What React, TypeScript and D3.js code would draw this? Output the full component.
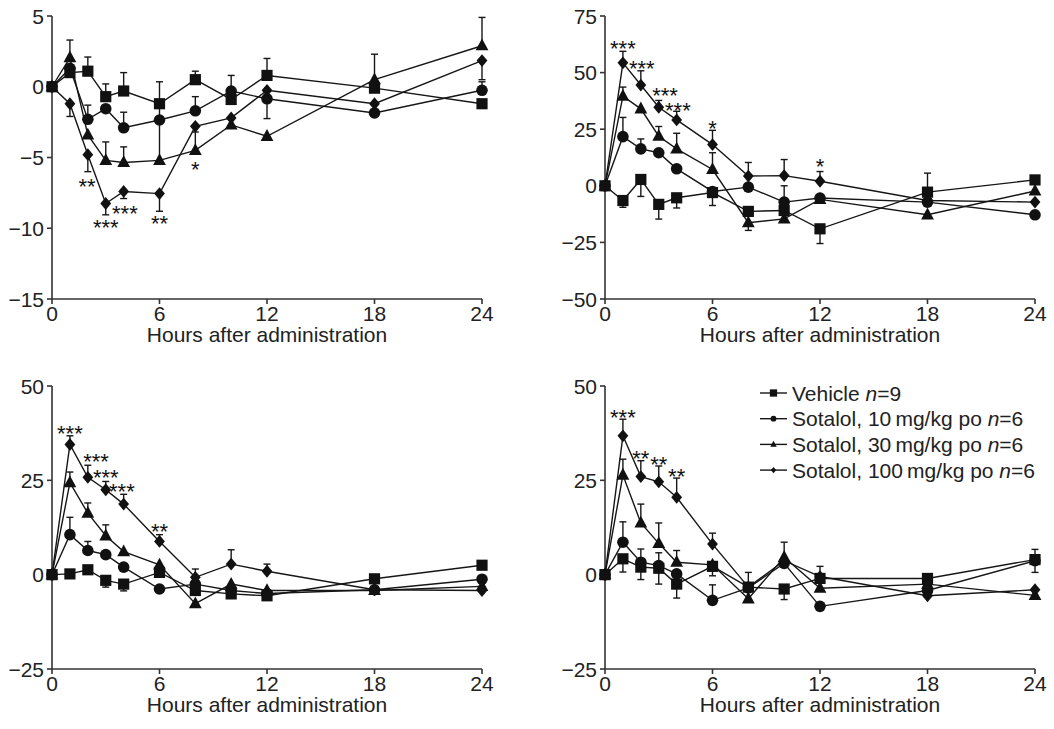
import React from 'react';
import * as d3 from 'd3';

const FONT = "'Liberation Sans', Arial, Helvetica, sans-serif";

// ---------- shared ----------
const hours = [0, 1, 2, 3, 4, 6, 8, 10, 12, 18, 24];
const xTicks = [0, 6, 12, 18, 24];
const xTitle = 'Hours after administration';
const legendLabels = ['Vehicle', 'Sotalol, 10\u2009mg/kg po', 'Sotalol, 30\u2009mg/kg po', 'Sotalol, 100\u2009mg/kg po'];
const legendN = ['9', '6', '6', '6'];
const markerKinds = ['square', 'circle', 'triangle', 'diamond'];

// ---------- panel A (top-left) ----------
const aTicks = [-15, -10, -5, 0, 5];
const aVehicle = [0, 1.0, 1.1, -0.7, -0.3, -1.2, 0.5, -0.9, 0.8, -0.1, -1.2];
const aVehicleErr = [0, 0, 1.0, 0.9, 1.3, 0, 0.6, 1.7, 1.2, 0, 0];
const aLow = [0, 1.3, -2.3, -1.55, -2.9, -2.35, -1.7, -0.3, -0.85, -1.85, -0.25];
const aLowErr = [0, 0, 1.0, 0, 1.1, 2.7, 1.0, 0, -1.4, 0, 0.6];
const aMid = [0, 2.05, -3.4, -5.2, -5.35, -5.2, -4.5, -2.7, -3.5, 0.5, 2.9];
const aMidErr = [0, 1.25, 0, 1.3, 1.1, 2.9, 1.3, 0, 0, 1.8, 2.0];
const aHigh = [0, -1.2, -4.8, -8.25, -7.4, -7.55, -2.8, -2.2, -0.25, -1.2, 1.85];
const aHighErr = [0, -0.9, -1.2, -0.8, -0.5, -1.25, 0, 0, 0, 0, -1.35];
const aStarHour = [1.95, 3.0, 4.07, 6.0, 8.0];
const aStarValue = [-6.7, -9.6, -8.6, -9.3, -5.5];
const aStarText = ['**', '***', '***', '**', '*'];

// ---------- panel B (top-right) ----------
const bTicks = [-50, -25, 0, 25, 50, 75];
const bVehicle = [0, -6.5, 2.8, -8.2, -5.3, -3.0, -11.3, -10.9, -19, -2.8, 2.6];
const bVehicleErr = [0, -3, -7.5, -6.5, -4.5, -5.7, 0, 0, -6.5, 8.4, 0];
const bLow = [0, 21.7, 16.3, 14.6, 7.5, -2.5, -0.6, -7.2, -5.4, -7.2, -12.8];
const bLowErr = [0, 8.5, 4.4, 0, 0, 0, 0, 7.2, 0, 0, 0];
const bMid = [0, 39.6, 34, 21.9, 16.3, 7.2, -16.3, -14.6, -6, -12.8, -2.3];
const bMidErr = [0, 4, 0, 4.3, 6.9, 7.4, -3.4, 0, 0, 0, 0];
const bHigh = [0, 54.3, 44.5, 34.7, 29.1, 18.2, 4.3, 4.5, 2, -6.5, -7.2];
const bHighErr = [0, 5.1, 6.3, 3, 3.8, 6.3, 6, 7.1, 4.3, 0, 0];
const bStarHour = [1.0, 2.05, 3.35, 4.07, 6.0, 12.0];
const bStarValue = [63, 54, 42, 35.3, 27.3, 10.7];
const bStarText = ['***', '***', '***', '***', '*', '*'];

// ---------- panel C (bottom-left) ----------
const cTicks = [-25, 0, 25, 50];
const cVehicle = [0, 0.2, 1.3, -1.5, -2.5, 0.6, -4.2, -5.1, -5.6, -1.1, 2.5];
const cVehicleErr = [0, 0, -1.2, -1.8, -1.8, 0, 0, 0, 0, 0, 0];
const cLow = [0, 10.6, 6.4, 5.3, 2.0, -3.8, -2.5, -4.2, -5.0, -4.0, -1.2];
const cLowErr = [0, 4.6, 2.4, 0, 0, 0, 0, 0, 0, 0, 0];
const cMid = [0, 24.4, 16.3, 10.3, 6.1, 2.6, -7.7, -2.5, -4.2, -4.2, -3.1];
const cMidErr = [0, 2.8, 2.7, 2.9, 0, 0, 0, 0, 0, 0, 0];
const cHigh = [0, 34.5, 25.8, 22.5, 18.7, 8.8, -0.7, 2.8, 0.9, -4.0, -4.2];
const cHighErr = [0, 2.3, 3.2, 2.2, 2.6, 1.8, 2.2, 3.8, 1.9, 0, 0];
const cStarHour = [1.0, 2.46, 3.0, 3.9, 6.0];
const cStarValue = [38.7, 31.3, 27.2, 23.4, 12.8];
const cStarText = ['***', '***', '***', '***', '**'];

// ---------- panel D (bottom-right) ----------
const dTicks = [-25, 0, 25, 50];
const dVehicle = [0, 4.2, 2.0, 1.7, -2.5, 2.2, -3.3, -3.8, -1.0, -1.0, 4.0];
const dVehicleErr = [0, -3.5, -3.3, -4.2, -3.7, -2.5, 0, -2.8, 3.2, 0, -3.4];
const dLow = [0, 8.6, 3.3, 2.4, 0.2, -6.8, -3.5, 3.0, -8.4, -4.2, 3.7];
const dLowErr = [0, 5.4, 3.5, 3.4, 0, 4.1, 0, 0, 0, 0, 3.0];
const dMid = [0, 26.4, 13.7, 8.3, 3.3, 2.6, -6.4, 4.6, -3.6, -2.5, -5.5];
const dMidErr = [0, 4.2, 5.0, 5.4, 3.1, 0, 7.0, 4.0, 0, 0, 0];
const dHigh = [0, 36.8, 26.0, 24.6, 20.5, 8.1, -3.3, 3.7, -0.5, -5.6, -4.0];
const dHighErr = [0, 4.4, 4.2, 4.2, 5.1, 2.9, 0, 0, 0, 0, 0];
const dStarHour = [1.0, 2.0, 3.0, 4.0];
const dStarValue = [43, 32.1, 30.6, 27.4];
const dStarText = ['***', '**', '**', '**'];

// ---------- drawing helpers ----------
function Marker({ kind, x, y, s = 1 }) {
  if (kind === 'circle') return <circle cx={x} cy={y} r={5.8 * s} fill="#111" />;
  let d = '';
  if (kind === 'square') {
    const h = 5.6 * s;
    d = `M${x - h},${y - h}h${2 * h}v${2 * h}h${-2 * h}z`;
  } else if (kind === 'triangle') {
    const w = 6.4 * s;
    d = `M${x},${y - 7.2 * s}L${x + w},${y + 4.6 * s}L${x - w},${y + 4.6 * s}z`;
  } else {
    const w = 5.4 * s, h = 6.4 * s;
    d = `M${x},${y - h}L${x + w},${y}L${x},${y + h}L${x - w},${y}z`;
  }
  return <path d={d} fill="#111" />;
}

const STROKE = '#161616';

function Panel({ cfg }) {
  const x = d3.scaleLinear().domain([0, 24]).range([cfg.x0, cfg.x1]);
  const y = d3.scaleLinear().domain(cfg.domain).range([cfg.yBot, cfg.yTop]);
  const fmt = d3.format('d');
  const line = d3.line<number>().x((_, i) => x(hours[i])).y((v) => y(v));
  return (
    <g>
      {/* axes */}
      <line x1={cfg.x0} x2={cfg.x0} y1={y(cfg.domain[1])} y2={cfg.yBot} stroke="#333" strokeWidth={1.6} />
      <line x1={cfg.x0} x2={cfg.x1} y1={cfg.yBot} y2={cfg.yBot} stroke="#333" strokeWidth={1.6} />
      {cfg.ticks.map((t) => (
        <g key={'y' + t}>
          <line x1={cfg.x0 - 5} x2={cfg.x0} y1={y(t)} y2={y(t)} stroke="#333" strokeWidth={1.6} />
          <text x={cfg.x0 - 8} y={y(t) + 7.5} textAnchor="end" fontSize={21} fill="#222">{fmt(t)}</text>
        </g>
      ))}
      {xTicks.map((t) => (
        <g key={'x' + t}>
          <line x1={x(t)} x2={x(t)} y1={cfg.yBot} y2={cfg.yBot + 5} stroke="#333" strokeWidth={1.6} />
          <text x={x(t)} y={cfg.yBot + 22} textAnchor="middle" fontSize={21} fill="#222">{t}</text>
        </g>
      ))}
      <text x={(cfg.x0 + cfg.x1) / 2} y={cfg.yBot + 43} textAnchor="middle" fontSize={21} fill="#222">{xTitle}</text>
      {/* lines */}
      {cfg.series.map((s, k) => (
        <path key={'l' + k} d={line(s.values) || ''} fill="none" stroke={STROKE} strokeWidth={1.4} />
      ))}
      {/* error bars */}
      {cfg.series.map((s, k) =>
        s.errs.map((e, i) =>
          e === 0 ? null : (
            <g key={'e' + k + '-' + i} stroke={STROKE} strokeWidth={1.4}>
              <line x1={x(hours[i])} x2={x(hours[i])} y1={y(s.values[i])} y2={y(s.values[i] + e)} />
              <line x1={x(hours[i]) - 3.5} x2={x(hours[i]) + 3.5} y1={y(s.values[i] + e)} y2={y(s.values[i] + e)} />
            </g>
          )
        )
      )}
      {/* markers */}
      {cfg.series.map((s, k) =>
        s.values.map((v, i) => <Marker key={'m' + k + '-' + i} kind={markerKinds[k]} x={x(hours[i])} y={y(v)} />)
      )}
      {/* significance */}
      {cfg.starHour.map((h, i) => (
        <text key={'s' + i} x={x(h)} y={y(cfg.starValue[i]) + 12.5} textAnchor="middle" fontSize={22} fill="#111">
          {cfg.starText[i]}
        </text>
      ))}
    </g>
  );
}

export default function App() {
  const mk = (values, errs) => ({ values, errs });
  const panels = [
    {
      x0: 52, x1: 482, yTop: 16, yBot: 299, domain: [-15, 5], ticks: aTicks,
      series: [mk(aVehicle, aVehicleErr), mk(aLow, aLowErr), mk(aMid, aMidErr), mk(aHigh, aHighErr)],
      starHour: aStarHour, starValue: aStarValue, starText: aStarText,
    },
    {
      x0: 605, x1: 1035, yTop: 16, yBot: 299, domain: [-50, 75], ticks: bTicks,
      series: [mk(bVehicle, bVehicleErr), mk(bLow, bLowErr), mk(bMid, bMidErr), mk(bHigh, bHighErr)],
      starHour: bStarHour, starValue: bStarValue, starText: bStarText,
    },
    {
      x0: 52, x1: 482, yTop: 386, yBot: 669, domain: [-25, 50], ticks: cTicks,
      series: [mk(cVehicle, cVehicleErr), mk(cLow, cLowErr), mk(cMid, cMidErr), mk(cHigh, cHighErr)],
      starHour: cStarHour, starValue: cStarValue, starText: cStarText,
    },
    {
      x0: 605, x1: 1035, yTop: 386, yBot: 669, domain: [-25, 50], ticks: dTicks,
      series: [mk(dVehicle, dVehicleErr), mk(dLow, dLowErr), mk(dMid, dMidErr), mk(dHigh, dHighErr)],
      starHour: dStarHour, starValue: dStarValue, starText: dStarText,
    },
  ];
  const legendX = 760;
  const legendY0 = 393;
  const legendStep = 25.7;
  return (
    <svg
      width={1054}
      height={729}
      style={{ position: 'absolute', left: 0, top: 0, background: '#fff' }}
      fontFamily={FONT}
    >
      <rect x={0} y={0} width={1054} height={729} fill="#fff" />
      {panels.map((p, i) => (
        <Panel key={i} cfg={p} />
      ))}
      <g>
        {legendLabels.map((lab, i) => {
          const cy = legendY0 + i * legendStep;
          return (
            <g key={'lg' + i}>
              <line x1={legendX} x2={legendX + 27} y1={cy} y2={cy} stroke={STROKE} strokeWidth={1.4} />
              <Marker kind={markerKinds[i]} x={legendX + 13.5} y={cy} s={i === 0 ? 0.65 : 0.5} />
              <text x={legendX + 32} y={cy + 7.5} fontSize={21} fill="#222">
                {lab + ' '}
                <tspan fontStyle="italic">n</tspan>
                {'=' + legendN[i]}
              </text>
            </g>
          );
        })}
      </g>
    </svg>
  );
}
